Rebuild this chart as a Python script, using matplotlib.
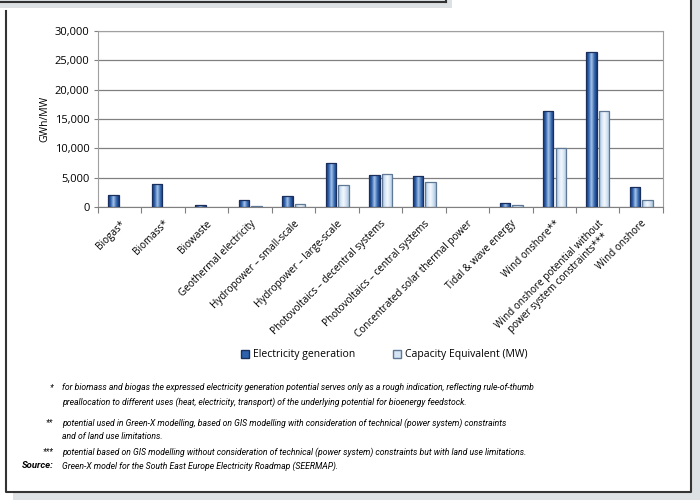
import numpy as np
import matplotlib
matplotlib.use("Agg")
import matplotlib.pyplot as plt
from matplotlib.lines import Line2D
from matplotlib.patches import Rectangle
from matplotlib.colors import LinearSegmentedColormap

plt.rcParams["font.family"] = ["Open Sans", "DejaVu Sans"]

categories = [
    "Biogas*",
    "Biomass*",
    "Biowaste",
    "Geothermal electricity",
    "Hydropower – small-scale",
    "Hydropower – large-scale",
    "Photovoltaics – decentral systems",
    "Photovoltaics – central systems",
    "Concentrated solar thermal power",
    "Tidal & wave energy",
    "Wind onshore**",
    "Wind onshore potential without\npower system constraints***",
    "Wind onshore",
]
electricity = [2000, 4000, 350, 1200, 1900, 7500, 5500, 5250, 0, 750, 16400, 26500, 3450]
capacity = [0, 0, 0, 250, 550, 3800, 5650, 4250, 0, 350, 10100, 16400, 1200]
yticks = [0, 5000, 10000, 15000, 20000, 25000, 30000]

footnotes = [
    ("*", "for biomass and biogas the expressed electricity generation potential serves only as a rough indication, reflecting rule-of-thumb\npreallocation to different uses (heat, electricity, transport) of the underlying potential for bioenergy feedstock."),
    ("**", "potential used in Green-X modelling, based on GIS modelling with consideration of technical (power system) constraints\nand of land use limitations."),
    ("***", "potential based on GIS modelling without consideration of technical (power system) constraints but with land use limitations."),
]
source = "Green-X model for the South East Europe Electricity Roadmap (SEERMAP)."

elec_cmap = LinearSegmentedColormap.from_list(
    "elec", ["#16387a", "#2f62ad", "#a9c6e8", "#3a6db5", "#16387a"])
cap_cmap = LinearSegmentedColormap.from_list(
    "cap", ["#9ab8d8", "#d5e5f4", "#f4f8fc", "#d2e2f2", "#a8c2dc"])


def gradient_bars(ax, bars, cmap, edge):
    grad = np.linspace(0, 1, 64).reshape(1, -1)
    for p in bars:
        h = p.get_height()
        if h <= 0:
            p.set_visible(False)
            continue
        x, w = p.get_x(), p.get_width()
        im = ax.imshow(grad, extent=[x, x + w, 0, h], aspect="auto",
                       cmap=cmap, zorder=2, interpolation="bilinear")
        im.set_clip_path(p)
        p.set_facecolor("none")
        p.set_edgecolor(edge)
        p.set_linewidth(0.9)
        p.set_zorder(3)


fig = plt.figure(figsize=(7, 5), dpi=100)
fig.patch.set_facecolor("white")

ax = fig.add_axes([0.14, 0.586, 0.807, 0.352])
x = np.arange(len(categories))
w = 0.24
b1 = ax.bar(x - 0.14, electricity, w)
b2 = ax.bar(x + 0.15, capacity, w)
gradient_bars(ax, b1, elec_cmap, "#1a2f5c")
gradient_bars(ax, b2, cap_cmap, "#5f7896")

ax.set_xlim(-0.5, len(categories) - 0.5)
ax.set_ylim(0, 30000)
ax.set_yticks(yticks)
ax.set_yticklabels([f"{v:,}" for v in yticks], fontsize=8)
ax.yaxis.grid(True, color="#808080", linewidth=0.9)
ax.set_axisbelow(True)
ax.set_ylabel("GWh/MW", fontsize=7.5, labelpad=3)

ax.set_xticks(np.arange(len(categories) + 1) - 0.5)
ax.set_xticklabels([])
ax.set_xticks(x, minor=True)
ax.set_xticklabels(categories, minor=True, rotation=45, ha="right",
                   rotation_mode="anchor", fontsize=7.2, multialignment="center")
ax.tick_params(axis="x", which="minor", length=0, pad=8)
ax.tick_params(axis="x", which="major", length=4, color="#808080", direction="out")
ax.tick_params(axis="y", length=3, color="#808080", pad=3)
for s in ax.spines.values():
    s.set_color("#a0a0a0")
ax.spines["bottom"].set_color("#808080")

# legend
handles = [Rectangle((0, 0), 1, 1, facecolor="#2f62ad", edgecolor="#1a2f5c"),
           Rectangle((0, 0), 1, 1, facecolor="#d5e5f4", edgecolor="#5f7896")]
fig.legend(handles, ["Electricity generation", "Capacity Equivalent (MW)"],
           loc="center", bbox_to_anchor=(0.549, 0.29), ncol=2, frameon=False,
           fontsize=7.5, handlelength=0.8, handleheight=0.8, handletextpad=0.4,
           columnspacing=3.6)

# footnotes
ys = [0.234, 0.164, 0.106]
for (mark, text), y in zip(footnotes, ys):
    fig.text(0.076, y, mark, ha="right", va="top", fontsize=6.2, style="italic",
             family="Roboto")
    fig.text(0.089, y, text, ha="left", va="top", fontsize=6.2, style="italic",
             family="Roboto", linespacing=1.7)
fig.text(0.076, 0.077, "Source:", ha="right", va="top", fontsize=6.8,
         style="italic", weight="bold", family="Roboto")
fig.text(0.089, 0.077, source, ha="left", va="top", fontsize=6.2,
         style="italic", family="Roboto")

# surrounding frames
shadow = "#dde1e4"
fig.add_artist(Rectangle((0, 0.984), 0.646, 0.016, transform=fig.transFigure,
                         facecolor=shadow, edgecolor="none"))
fig.add_artist(Line2D([0, 0.637], [0.996, 0.996], transform=fig.transFigure,
                      color="#333333", linewidth=1.5))
fig.add_artist(Line2D([0.637, 0.637], [0.996, 1.0], transform=fig.transFigure,
                      color="#333333", linewidth=1.5))
fig.add_artist(Rectangle((0.988, 0.0), 0.012, 1.0, transform=fig.transFigure,
                         facecolor=shadow, edgecolor="none"))
fig.add_artist(Rectangle((0.019, 0.0), 0.981, 0.016, transform=fig.transFigure,
                         facecolor=shadow, edgecolor="none"))
fig.add_artist(Line2D([0.009, 0.009, 0.987, 0.987], [0.978, 0.016, 0.016, 1.0],
                      transform=fig.transFigure, color="#333333", linewidth=1.5))

fig.savefig("out.png", dpi=100)
